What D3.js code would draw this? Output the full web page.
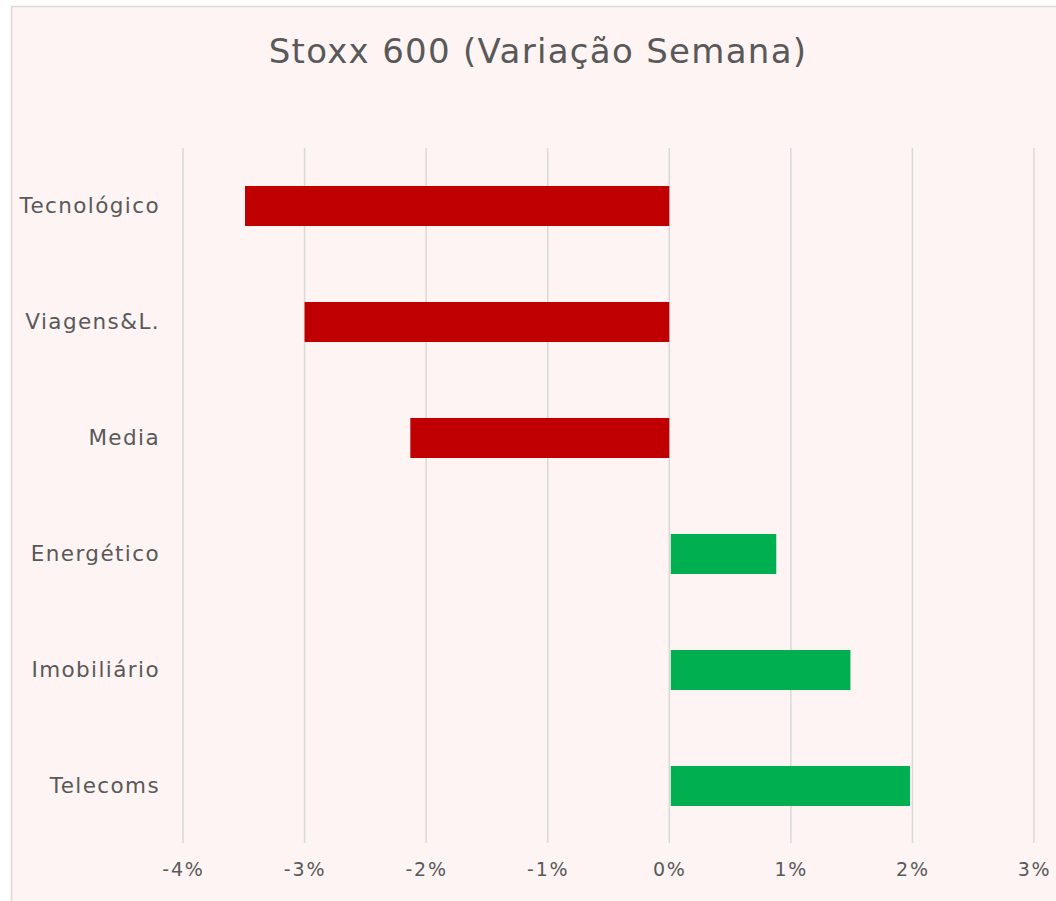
<!DOCTYPE html>
<html>
<head>
<meta charset="utf-8">
<script src="https://cdn.jsdelivr.net/npm/d3@7"></script>
<style>
  html, body { margin: 0; padding: 0; background: #ffffff; }
  svg { display: block; font-family: "DejaVu Sans", "Noto Sans", sans-serif; }
</style>
</head>
<body>
<div id="container"></div>
<script>
// data
const categories = ['Tecnológico', 'Viagens&L.', 'Media', 'Energético', 'Imobiliário', 'Telecoms'];
const values = [-3.49, -3.0, -2.13, 0.88, 1.49, 1.98];
const tickValues = [-4, -3, -2, -1, 0, 1, 2, 3];
const titleText = 'Stoxx 600 (Variação Semana)';

const width = 1056;
const height = 901;
const textColor = '#595959';
const gridColor = '#d9d9d9';
const bg = '#fef4f3';

const svg = d3.select('#container').append('svg')
  .attr('width', width)
  .attr('height', height);

// chart frame
svg.append('rect')
  .attr('x', 11.5).attr('y', 6.5)
  .attr('width', width + 10).attr('height', height + 10)
  .attr('fill', bg)
  .attr('stroke', gridColor)
  .attr('stroke-width', 1.5);

svg.append('text')
  .attr('x', 538).attr('y', 63)
  .attr('text-anchor', 'middle')
  .attr('font-size', 34)
  .attr('letter-spacing', 1.3)
  .attr('fill', textColor)
  .text(titleText);

const x = d3.scaleLinear()
  .domain([-4, 3])
  .range([183, 1034]);

const y = d3.scaleBand()
  .domain(categories)
  .range([148, 844])
  .paddingInner(0.655)
  .paddingOuter(0.3275);

// gridlines
svg.append('g')
  .selectAll('line')
  .data(tickValues)
  .join('line')
  .attr('x1', d => x(d)).attr('x2', d => x(d))
  .attr('y1', 148).attr('y2', 843)
  .attr('stroke', gridColor)
  .attr('stroke-width', 1.5);

// bars
svg.append('g')
  .selectAll('rect')
  .data(values)
  .join('rect')
  .attr('x', d => d < 0 ? x(d) : x(0) + 1.5)
  .attr('width', d => d < 0 ? x(0) - x(d) : x(d) - x(0) - 1.5)
  .attr('y', (d, i) => y(categories[i]))
  .attr('height', y.bandwidth())
  .attr('fill', d => d < 0 ? '#c00000' : '#00b050');

// x axis labels
const xAxis = d3.axisBottom(x)
  .tickValues(tickValues)
  .tickSize(0)
  .tickPadding(0)
  .tickFormat(d => d + '%');

const xg = svg.append('g')
  .attr('transform', 'translate(0,862)')
  .call(xAxis)
  .attr('font-family', null)
  .attr('font-size', null);
xg.select('.domain').remove();
xg.selectAll('text')
  .attr('font-size', 19)
  .attr('letter-spacing', 1.8)
  .attr('fill', textColor);

// category labels
const yAxis = d3.axisLeft(y).tickSize(0).tickPadding(0);
const yg = svg.append('g')
  .attr('transform', 'translate(160,0)')
  .call(yAxis)
  .attr('font-family', null)
  .attr('font-size', null);
yg.select('.domain').remove();
yg.selectAll('text')
  .attr('font-size', 21.5)
  .attr('letter-spacing', 1.4)
  .attr('fill', textColor);
</script>
</body>
</html>
